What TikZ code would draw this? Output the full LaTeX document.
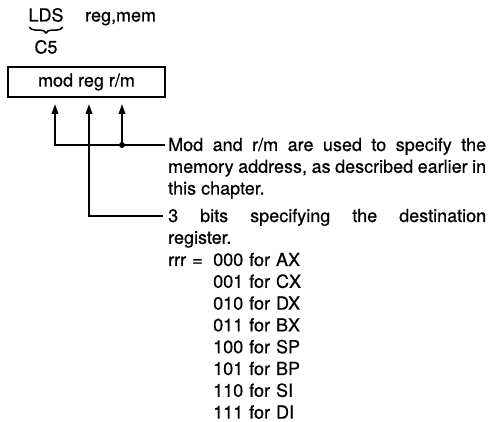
\documentclass[tikz,border=0pt]{standalone}
\usepackage{fontspec}
\setmainfont[FakeBold=0.6]{TeX Gyre Heros}
\usetikzlibrary{arrows.meta,decorations.pathreplacing}

\begin{document}
\begin{tikzpicture}[x=1pt,y=-1pt,
  txt/.style={inner sep=0pt,font=\fontsize{18}{21.8}\selectfont},
  wire/.style={line width=1.8pt},
  tip/.style={wire,-{Triangle[length=10pt,width=6.5pt]}},
  fieldbox/.style={draw,line width=1.7pt,minimum width=157pt,minimum height=30pt,inner sep=0pt,font=\fontsize{18}{21.8}\selectfont},
  notepar/.style={txt,anchor=base west,text width=318pt,align=justify}]
\useasboundingbox (0,0) rectangle (488,422);
% instruction and opcode
\node[txt,anchor=base] (lds) at (46,21.5) {LDS};
\node[txt,anchor=base west] (regmem) at (85,21.5) {reg,mem};
\node[txt,anchor=base] (c5) at (46,53.5) {C5};
\draw[line width=1.5pt,decorate,decoration={brace,mirror,amplitude=6pt}]
   ([xshift=1pt,yshift=-5pt]lds.south west) -- ([xshift=-1pt,yshift=-5pt]lds.south east);
% second byte
\node[fieldbox] (fields) at (86.5,82) {mod reg r/m};
\coordinate (pmod) at (55,104);
\coordinate (preg) at (89,104);
\coordinate (prm) at (122,104);
\coordinate (junc) at (122,145);
\coordinate (modend) at (165,145);
\coordinate (bitsend) at (163,216);
% notes
\node[notepar] (modtxt) at (168,151)
   {Mod and r/m are used to specify the\linebreak memory address, as described earlier in\linebreak this chapter.};
\node[notepar] (bitstxt) at (168,222)
   {3 bits specifying the destination\linebreak register.};
\node[txt,anchor=base west,text width=200pt,align=left] (rrr) at (168,266)
   {\makebox[45pt][l]{rrr =}000 for AX\\
    \hspace*{45pt}001 for CX\\
    \hspace*{45pt}010 for DX\\
    \hspace*{45pt}011 for BX\\
    \hspace*{45pt}100 for SP\\
    \hspace*{45pt}101 for BP\\
    \hspace*{45pt}110 for SI\\
    \hspace*{45pt}111 for DI};
% leaders
\draw[tip] (junc) -| (pmod);
\draw[tip] (junc) -- (prm);
\fill (junc) circle (3pt);
\draw[wire] (junc) -- (modend);
\draw[tip] (bitsend) -| (preg);
\end{tikzpicture}
\end{document}
